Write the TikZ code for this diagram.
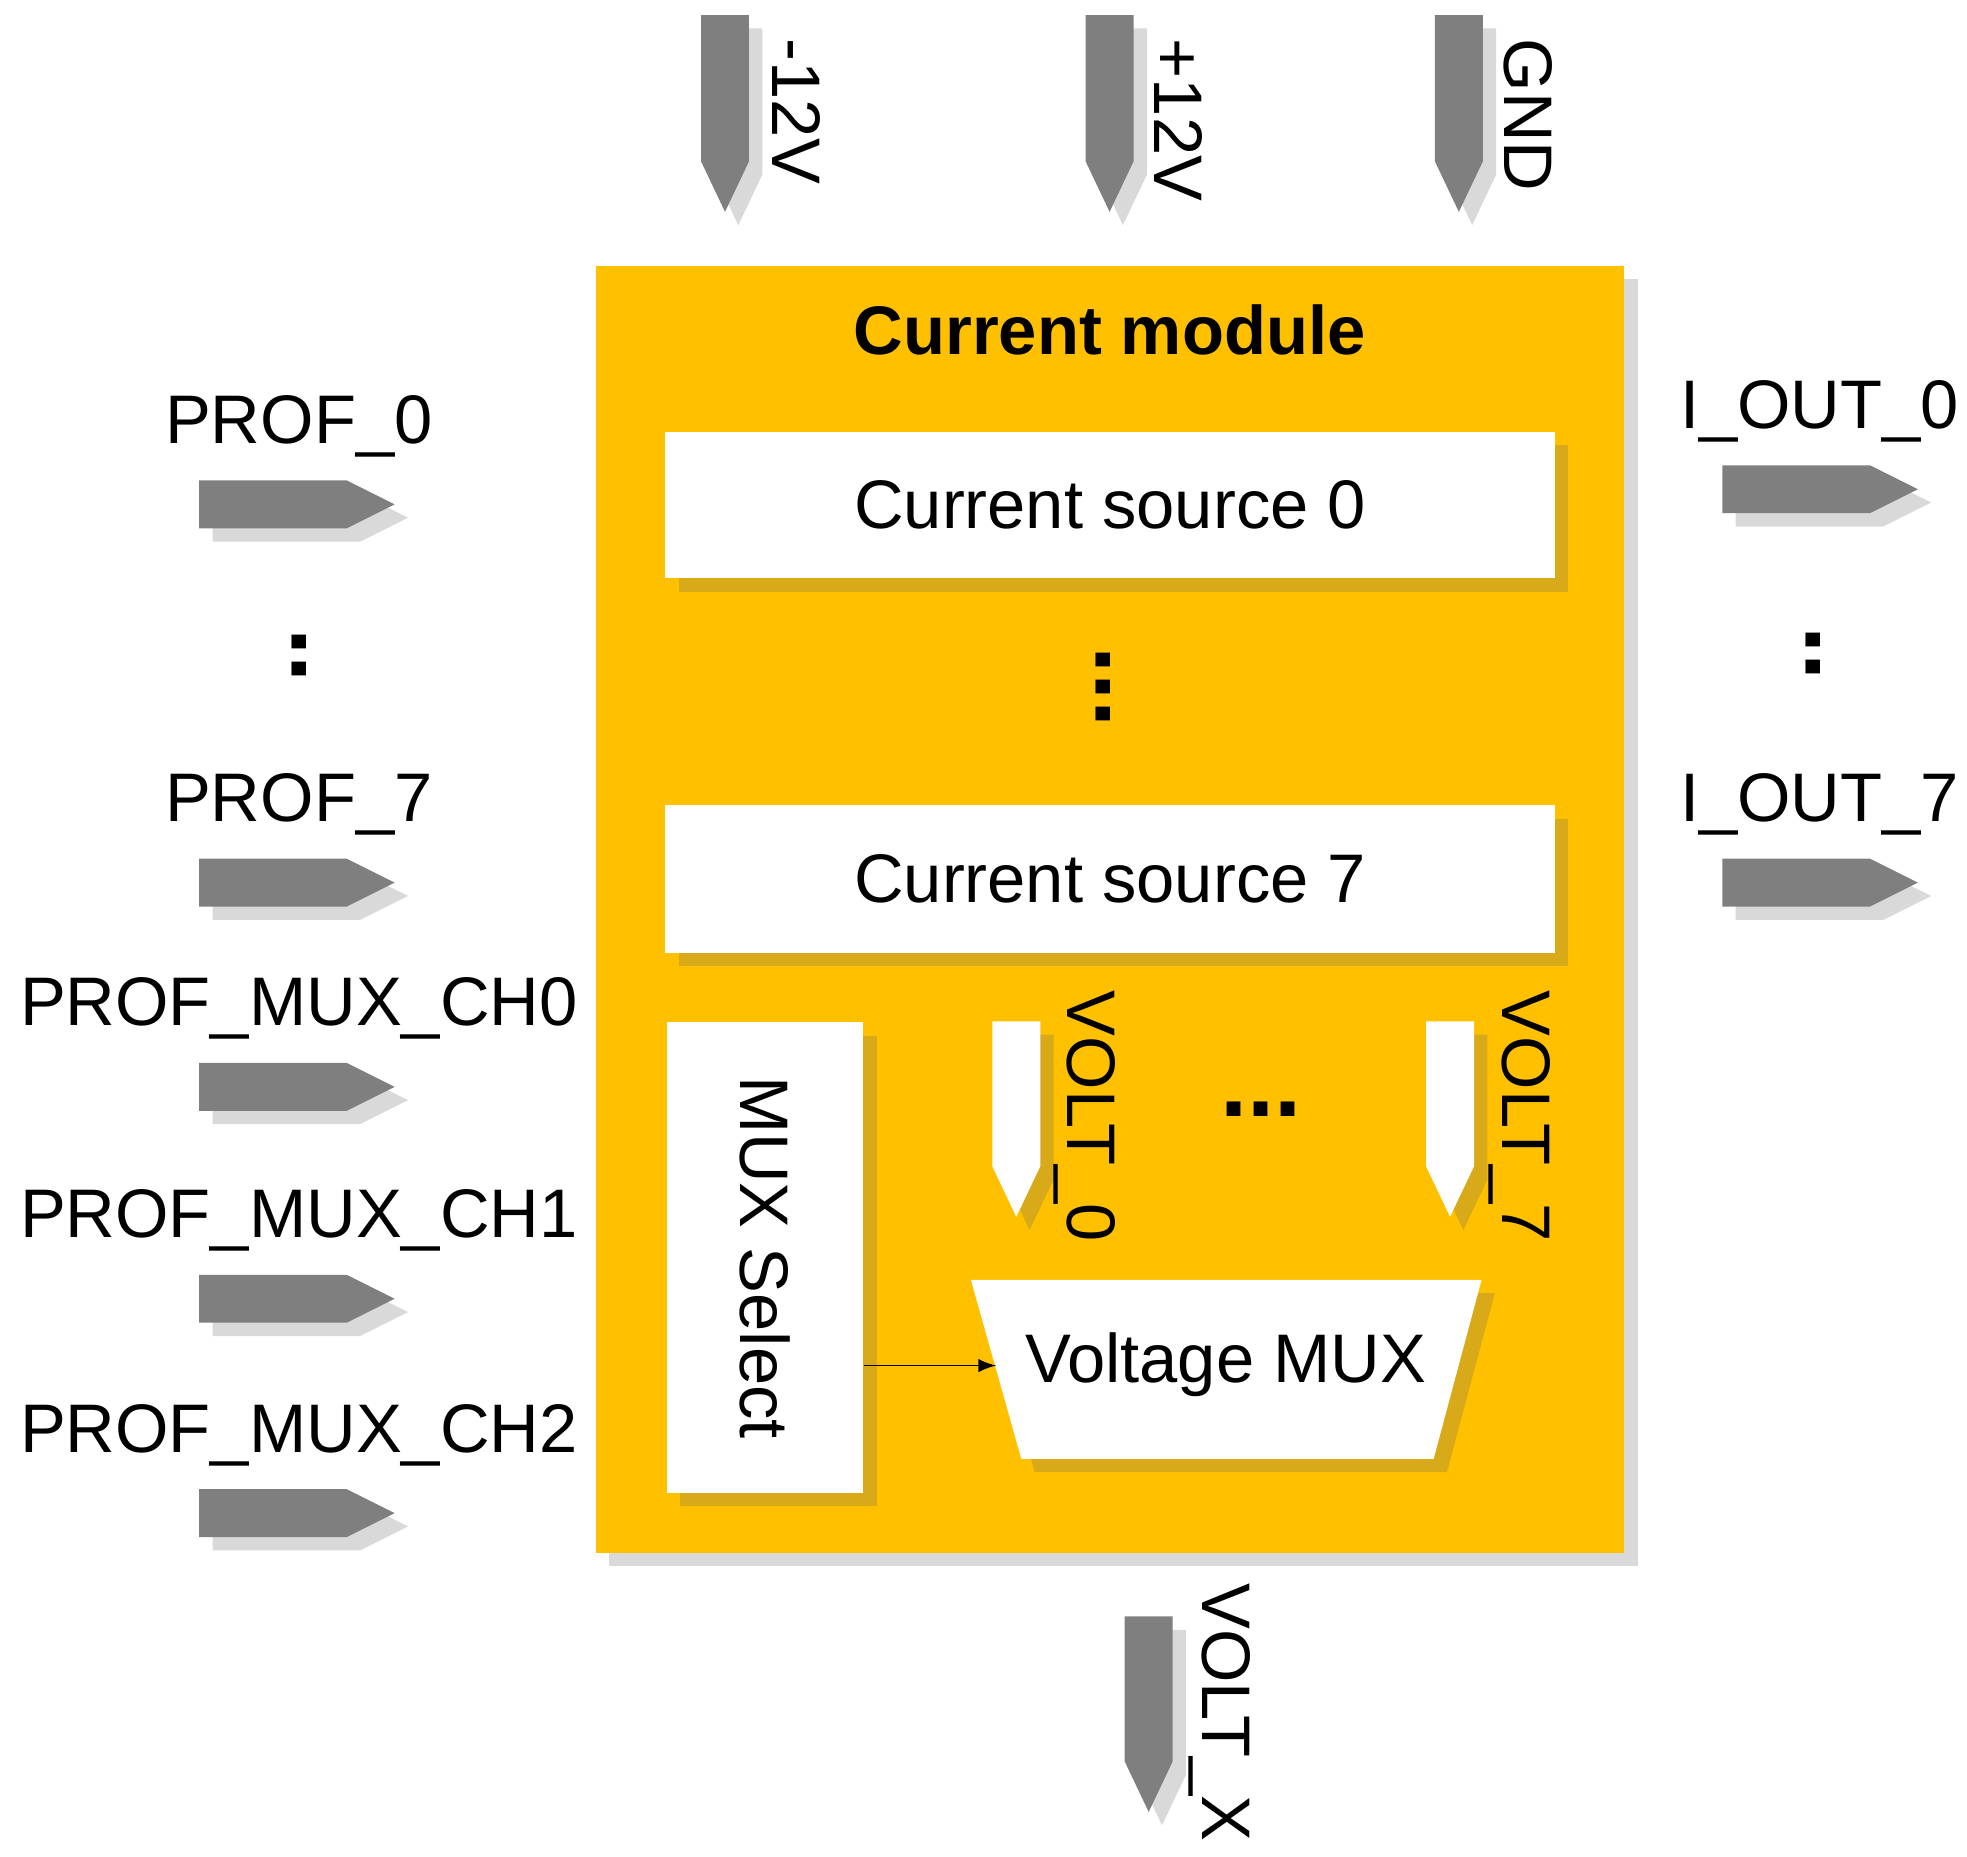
\documentclass[tikz,border=0pt]{standalone}
\usepackage{fontspec}
\setmainfont{Liberation Sans}
\usetikzlibrary{shadows,shapes.geometric}
\definecolor{modyel}{HTML}{FFC000}
\definecolor{pingray}{HTML}{7F7F7F}
\tikzset{
  sh/.style={drop shadow={shadow xshift=3pt,shadow yshift=-3pt,opacity=0.25,fill=black!60}},
  lbl/.style={font=\fontsize{15.5}{18}\selectfont,inner sep=0pt},
  box/.style={fill=white,draw=none,sh,inner sep=0pt},
  pinfill/.style={fill=pingray,draw=none,sh},
}
% right pin: x0 y (centre) ; length 155, height 38
\newcommand\pinRight[2]{\path[pinfill] (#1,#2+19) -- (#1+117,#2+19) -- (#1+155,#2) -- (#1+117,#2-19) -- (#1,#2-19) -- cycle;}
% down pin: xc, ytop, ybottom, style
\newcommand\pinDown[4]{\path[#4] (#1-19,#2) -- (#1+19,#2) -- (#1+19,#3-40) -- (#1,#3) -- (#1-19,#3-40) -- cycle;}
\begin{document}
\begin{tikzpicture}[x=0.01cm,y=-0.01cm]
\useasboundingbox (0,0) rectangle (1560,1472);
% main module
\node[fill=modyel,sh,minimum width=8.15cm,minimum height=10.2cm,anchor=north west,inner sep=0pt] (mod) at (472,210) {};
\node[lbl,font=\fontsize{15.5}{18}\selectfont\bfseries] (title) at (880,262) {Current module};
\node[box,minimum width=7.05cm,minimum height=1.16cm,anchor=north west] (cs0) at (527,342) {};
\node[lbl] at (cs0.center) {Current source 0};
\node[box,minimum width=7.05cm,minimum height=1.17cm,anchor=north west] (cs7) at (527,638) {};
\node[lbl] at (cs7.center) {Current source 7};
\node[lbl,font=\fontsize{22}{24}\selectfont\bfseries] (vd) at (875,545) {\rotatebox{90}{...}};
\node[box,minimum width=1.56cm,minimum height=3.73cm,anchor=north west] (ms) at (528,810) {};
\node[lbl,rotate=-90] at (ms.center) {MUX Select};
% voltage mux
\path[fill=white,sh] (770,1015) -- (1175,1015) -- (1137,1157) -- (810,1157) -- cycle;
\coordinate (vm) at (790,1083);
\node[lbl] (vmt) at (972,1082) {Voltage MUX};
\draw[-latex,thin] (ms.east|-vm) -- (vm);
% VOLT pins inside
\pinDown{806}{810}{965}{fill=white,draw=none,sh}
\pinDown{1150}{810}{965}{fill=white,draw=none,sh}
\node[lbl,rotate=-90,anchor=south west] (v0) at (835,785) {VOLT\_0};
\node[lbl,rotate=-90,anchor=south west] (v7) at (1180,785) {VOLT\_7};
\node[lbl,font=\fontsize{22}{24}\selectfont\bfseries] (hd) at (1000,880) {...};
% top pins
\pinDown{575}{12}{168}{pinfill}
\pinDown{880}{12}{168}{pinfill}
\pinDown{1157}{12}{168}{pinfill}
\node[lbl,rotate=-90,anchor=south west] (m12) at (612,30) {-12V};
\node[lbl,rotate=-90,anchor=south west] (p12) at (915,30) {+12V};
\node[lbl,rotate=-90,anchor=south west] (gnd) at (1192,30) {GND};
% bottom pin
\pinDown{911}{1282}{1437}{pinfill}
\node[lbl,rotate=-90,anchor=south west] (vx) at (942,1255) {VOLT\_X};
% left pins
\pinRight{158}{400}
\pinRight{158}{700}
\pinRight{158}{862}
\pinRight{158}{1030}
\pinRight{158}{1200}
\node[lbl] (p0) at (237,338) {PROF\_0};
\node[lbl,font=\fontsize{22}{24}\selectfont\bfseries] (ld) at (237,520) {\rotatebox{90}{..}};
\node[lbl] (p7) at (237,638) {PROF\_7};
\node[lbl] (c0) at (237,800) {PROF\_MUX\_CH0};
\node[lbl] (c1) at (237,968) {PROF\_MUX\_CH1};
\node[lbl] (c2) at (237,1138) {PROF\_MUX\_CH2};
% right pins
\pinRight{1366}{388}
\pinRight{1366}{700}
\node[lbl] (o0) at (1443,326) {I\_OUT\_0};
\node[lbl,font=\fontsize{22}{24}\selectfont\bfseries] (rd) at (1438,518) {\rotatebox{90}{..}};
\node[lbl] (o7) at (1443,638) {I\_OUT\_7};
\end{tikzpicture}
\end{document}
